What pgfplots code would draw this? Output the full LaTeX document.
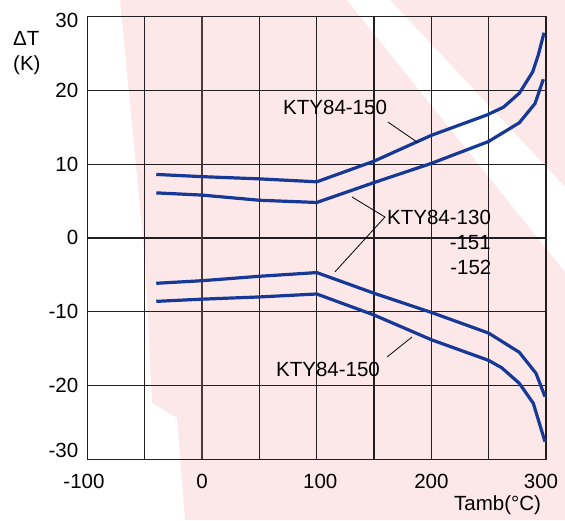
\documentclass[border=0pt]{standalone}
\usepackage{pgfplots}
\pgfplotsset{compat=1.18}
\usepackage{fontspec}
\setmainfont{Liberation Sans}
\definecolor{bgpink}{HTML}{FDE8E9}
\definecolor{curve}{HTML}{163896}
\definecolor{gridc}{HTML}{231F20}
\definecolor{gridb}{HTML}{4B3A3A}
\newcommand\f{\fontsize{20.5}{24}\selectfont}
\begin{document}
\begin{tikzpicture}[x=1pt,y=1pt]
\fill[bgpink] (0,0) rectangle (565,520);
\fill[white] (0,520) -- (120,520) -- (145,260) -- (152,117) -- (177,102) -- (185,0) -- (0,0) -- cycle;
\fill[white] (347,520) -- (390,520) -- (565,333) -- (565,248) -- cycle;
\useasboundingbox (0,0) rectangle (565,520);
\begin{axis}[at={(87.5pt,60.7pt)}, anchor=south west, scale only axis,
  width=458.5pt, height=442.8pt,
  xmin=-100, xmax=300, ymin=-30, ymax=30,
  xtick={-100,0,100,200,300}, minor xtick={-50,50,150,250},
  ytick={-30,-20,-10,0,10,20,30},
  xticklabels={{-100\hspace*{7pt}},0,{\hspace*{7pt}100},200,{300\hspace*{10pt}}},
  yticklabels={{\raisebox{9pt}[\height][0pt]{-30}},-20,-10,0,10,20,{\raisebox{-3.5pt}[\height][0pt]{30}}},
  grid=both,
  major grid style={gridc, line width=1.2pt},
  minor grid style={gridc, line width=1.2pt},
  major tick length=0pt, minor tick length=0pt,
  axis line style={gridc, line width=1.2pt},
  tick label style={font=\f},
  xticklabel style={yshift=-11pt},
  yticklabel style={xshift=-5.7pt},
  clip=false,
]
\draw[gridb, line width=2pt] (axis cs:0,-30) -- (axis cs:0,30);
% KTY84-150 upper
\addplot[curve, line width=3.2pt, line join=round] coordinates {
 (-40,8.6) (0,8.3) (50,8.0) (100,7.6) (150,10.4) (200,13.9) (248.3,16.65)
 (262.8,17.7) (276.7,19.6) (288.4,22.5) (293.3,24.8) (298.3,27.8)};
% KTY84-130 upper
\addplot[curve, line width=3.2pt, line join=round] coordinates {
 (-40,6.1) (0,5.8) (50,5.1) (100,4.8) (150,7.5) (200,10.1) (249.7,13.05)
 (276.7,15.6) (290.4,18.2) (297.7,21.5)};
% KTY84-130 lower
\addplot[curve, line width=3.2pt, line join=round] coordinates {
 (-40,-6.15) (0,-5.8) (50,-5.2) (100,-4.7) (150,-7.5) (200,-10.1) (250,-12.9)
 (276.7,-15.5) (291.3,-18.35) (299.1,-21.5)};
% KTY84-150 lower
\addplot[curve, line width=3.2pt, line join=round] coordinates {
 (-40,-8.6) (0,-8.3) (50,-8.0) (100,-7.6) (150,-10.45) (200,-13.8) (250,-16.6)
 (261.4,-17.6) (276.7,-19.7) (288.9,-22.4) (299.1,-27.6)};

\node[font=\f, inner sep=0] at (axis cs:116,17.7) {KTY84-150};
\draw[black, line width=0.8pt] (axis cs:162.1,15.7) -- (axis cs:188.3,12.9);
\node[font=\f, anchor=west, inner sep=0] at (axis cs:161.3,2.83) {KTY84-130};
\draw[black, line width=0.8pt] (axis cs:130.8,5.54) -- (axis cs:159.5,2.83) -- (axis cs:115.9,-4.6);
\node[font=\f, anchor=east, inner sep=0] at (axis cs:252,-0.69) {-151};
\node[font=\f, anchor=east, inner sep=0] at (axis cs:252.5,-3.94) {-152};
\node[font=\f, inner sep=0] at (axis cs:109.8,-17.76) {KTY84-150};
\draw[black, line width=0.8pt] (axis cs:161.3,-16.14) -- (axis cs:183.1,-13.43);
\end{axis}
\node[font=\f, anchor=west, inner sep=0] at (13,481.3) {ΔT};
\node[font=\f, anchor=west, inner sep=0] at (13,455) {(K)};
\node[font=\f, inner sep=0] at (497.5,14.5) {Tamb(°C)};
\end{tikzpicture}
\end{document}
